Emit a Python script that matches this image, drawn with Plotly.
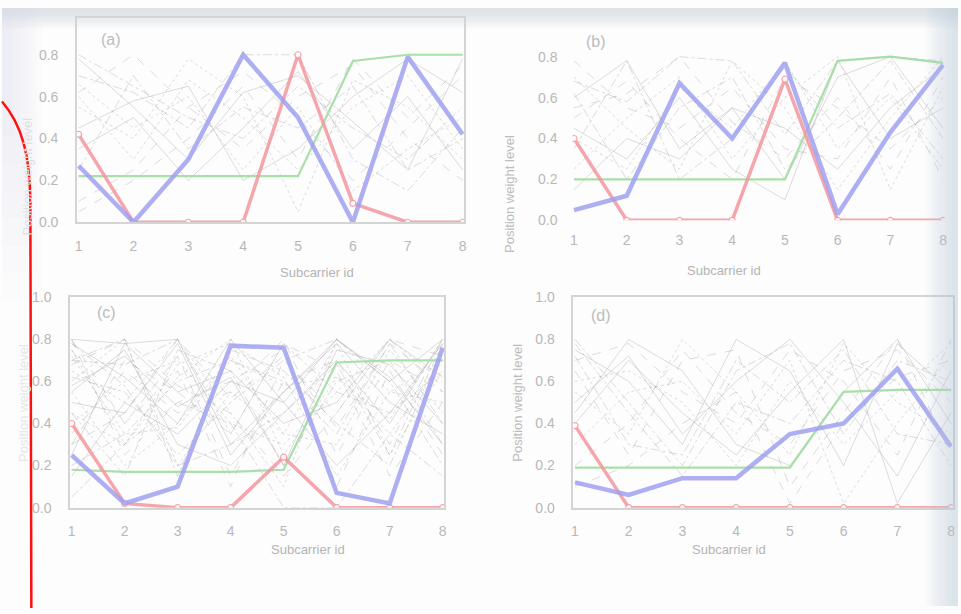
import plotly.graph_objects as go

W, H = 961, 614

subcarrier = [1, 2, 3, 4, 5, 6, 7, 8]

# ---------------- panel (a) ----------------
a_red = [0.42, 0.0, 0.0, 0.0, 0.80, 0.09, 0.0, 0.0]
a_blue = [0.27, 0.0, 0.30, 0.80, 0.50, 0.0, 0.79, 0.42]
a_green = [0.22, 0.22, 0.22, 0.22, 0.22, 0.77, 0.80, 0.80]
a_gray = [
    [0.78, 0.55, 0.30, 0.62, 0.70, 0.48, 0.25, 0.78],
    [0.62, 0.80, 0.55, 0.35, 0.60, 0.75, 0.40, 0.20],
    [0.55, 0.40, 0.78, 0.60, 0.05, 0.68, 0.55, 0.30],
    [0.70, 0.62, 0.45, 0.80, 0.80, 0.30, 0.15, 0.45],
    [0.45, 0.58, 0.65, 0.20, 0.35, 0.60, 0.78, 0.62],
    [0.10, 0.25, 0.55, 0.72, 0.50, 0.20, 0.45, 0.70],
    [0.60, 0.30, 0.68, 0.50, 0.25, 0.55, 0.70, 0.35],
    [0.80, 0.65, 0.50, 0.40, 0.65, 0.45, 0.30, 0.55],
    [0.35, 0.50, 0.20, 0.45, 0.72, 0.35, 0.60, 0.25],
    [0.05, 0.20, 0.40, 0.65, 0.30, 0.78, 0.50, 0.75],
    [0.66, 0.45, 0.60, 0.25, 0.55, 0.15, 0.35, 0.50],
    [0.25, 0.70, 0.35, 0.55, 0.45, 0.65, 0.25, 0.40],
]

# ---------------- panel (b) ----------------
b_red = [0.40, 0.0, 0.0, 0.0, 0.69, 0.0, 0.0, 0.0]
b_blue = [0.05, 0.12, 0.67, 0.40, 0.77, 0.03, 0.43, 0.76]
b_green = [0.20, 0.20, 0.20, 0.20, 0.20, 0.78, 0.80, 0.77]
b_gray = [
    [0.60, 0.78, 0.35, 0.55, 0.20, 0.70, 0.80, 0.45],
    [0.55, 0.62, 0.80, 0.48, 0.30, 0.60, 0.25, 0.70],
    [0.70, 0.45, 0.25, 0.78, 0.55, 0.15, 0.50, 0.80],
    [0.35, 0.78, 0.20, 0.40, 0.75, 0.45, 0.62, 0.30],
    [0.45, 0.30, 0.60, 0.25, 0.10, 0.78, 0.40, 0.55],
    [0.78, 0.55, 0.45, 0.65, 0.35, 0.30, 0.70, 0.20],
    [0.25, 0.50, 0.70, 0.30, 0.60, 0.80, 0.15, 0.65],
    [0.62, 0.20, 0.55, 0.70, 0.25, 0.50, 0.78, 0.40],
    [0.15, 0.40, 0.30, 0.55, 0.45, 0.25, 0.55, 0.75],
    [0.50, 0.68, 0.40, 0.20, 0.70, 0.55, 0.35, 0.60],
    [0.40, 0.25, 0.65, 0.45, 0.78, 0.35, 0.60, 0.25],
    [0.68, 0.58, 0.80, 0.78, 0.42, 0.78, 0.80, 0.78],
]

# ---------------- panel (c) ----------------
c_red = [0.40, 0.02, 0.0, 0.0, 0.24, 0.0, 0.0, 0.0]
c_blue = [0.25, 0.02, 0.10, 0.77, 0.76, 0.07, 0.02, 0.76]
c_green = [0.18, 0.17, 0.17, 0.17, 0.18, 0.69, 0.70, 0.70]
c_gray = [
    [0.80, 0.78, 0.80, 0.30, 0.55, 0.80, 0.60, 0.80],
    [0.75, 0.40, 0.65, 0.10, 0.70, 0.45, 0.80, 0.55],
    [0.60, 0.80, 0.20, 0.55, 0.35, 0.78, 0.25, 0.65],
    [0.45, 0.15, 0.75, 0.65, 0.20, 0.60, 0.70, 0.30],
    [0.78, 0.62, 0.40, 0.80, 0.50, 0.20, 0.45, 0.78],
    [0.30, 0.70, 0.55, 0.35, 0.78, 0.65, 0.15, 0.50],
    [0.65, 0.50, 0.80, 0.45, 0.10, 0.80, 0.55, 0.70],
    [0.20, 0.35, 0.60, 0.70, 0.60, 0.35, 0.78, 0.40],
    [0.55, 0.75, 0.30, 0.20, 0.45, 0.70, 0.40, 0.80],
    [0.80, 0.25, 0.50, 0.60, 0.75, 0.10, 0.65, 0.25],
    [0.40, 0.60, 0.70, 0.40, 0.30, 0.55, 0.80, 0.60],
    [0.70, 0.80, 0.15, 0.75, 0.65, 0.40, 0.20, 0.75],
    [0.50, 0.45, 0.78, 0.25, 0.55, 0.78, 0.50, 0.35],
    [0.35, 0.65, 0.45, 0.55, 0.80, 0.25, 0.70, 0.55],
    [0.75, 0.30, 0.62, 0.80, 0.25, 0.62, 0.35, 0.70],
    [0.62, 0.55, 0.25, 0.50, 0.70, 0.80, 0.60, 0.20],
    [0.25, 0.78, 0.55, 0.65, 0.40, 0.50, 0.80, 0.62],
    [0.80, 0.40, 0.72, 0.15, 0.60, 0.70, 0.30, 0.80],
    [0.55, 0.20, 0.40, 0.72, 0.35, 0.30, 0.75, 0.45],
    [0.70, 0.68, 0.80, 0.35, 0.78, 0.55, 0.45, 0.65],
    [0.15, 0.50, 0.35, 0.60, 0.50, 0.80, 0.62, 0.30],
    [0.68, 0.80, 0.58, 0.45, 0.15, 0.45, 0.80, 0.72],
    [0.45, 0.30, 0.68, 0.78, 0.62, 0.15, 0.55, 0.50],
    [0.78, 0.58, 0.20, 0.30, 0.45, 0.68, 0.25, 0.78],
    [0.58, 0.72, 0.48, 0.62, 0.20, 0.75, 0.68, 0.40],
    [0.30, 0.45, 0.80, 0.52, 0.72, 0.38, 0.78, 0.58],
    [0.72, 0.35, 0.38, 0.70, 0.58, 0.62, 0.42, 0.80],
    [0.05, 0.30, 0.50, 0.40, 0.00, 0.00, 0.35, 0.15],
]

# ---------------- panel (d) ----------------
d_red = [0.39, 0.0, 0.0, 0.0, 0.0, 0.0, 0.0, 0.0]
d_blue = [0.12, 0.06, 0.14, 0.14, 0.35, 0.40, 0.66, 0.29]
d_green = [0.19, 0.19, 0.19, 0.19, 0.19, 0.55, 0.56, 0.56]
d_gray = [
    [0.75, 0.60, 0.30, 0.80, 0.65, 0.20, 0.78, 0.55],
    [0.70, 0.78, 0.55, 0.40, 0.75, 0.60, 0.25, 0.80],
    [0.55, 0.35, 0.80, 0.55, 0.25, 0.78, 0.50, 0.35],
    [0.80, 0.50, 0.20, 0.65, 0.78, 0.35, 0.70, 0.60],
    [0.40, 0.70, 0.45, 0.25, 0.55, 0.80, 0.02, 0.45],
    [0.65, 0.25, 0.70, 0.75, 0.10, 0.45, 0.80, 0.25],
    [0.30, 0.55, 0.60, 0.35, 0.70, 0.02, 0.40, 0.72],
    [0.78, 0.45, 0.15, 0.50, 0.40, 0.70, 0.60, 0.20],
    [0.50, 0.72, 0.35, 0.60, 0.80, 0.50, 0.15, 0.65],
    [0.20, 0.40, 0.75, 0.45, 0.30, 0.65, 0.75, 0.50],
    [0.60, 0.65, 0.50, 0.20, 0.60, 0.30, 0.55, 0.78],
    [0.72, 0.30, 0.25, 0.70, 0.50, 0.75, 0.35, 0.30],
    [0.45, 0.80, 0.65, 0.30, 0.20, 0.55, 0.80, 0.40],
    [0.10, 0.20, 0.40, 0.55, 0.02, 0.40, 0.62, 0.70],
]

panel_labels = ["(a)", "(b)", "(c)", "(d)"]
x_title = "Subcarrier id"
y_title = "Position weight level"
ticks_08 = [0.0, 0.2, 0.4, 0.6, 0.8]
ticks_10 = [0.0, 0.2, 0.4, 0.6, 0.8, 1.0]

# ---------------- styling ----------------
RED = "rgba(243,150,158,0.85)"
BLUE = "rgba(160,160,240,0.85)"
GREEN = "rgba(160,220,160,0.9)"
GRAY = "rgba(150,150,150,0.32)"
TXT = "#b8b8b8"
FONT = "Liberation Sans, Arial, sans-serif"
dashes = ["solid", "dash", "dot", "dashdot"]


def px_x(p):
    return p / W


def px_y(p):
    return 1 - p / H


# pixel geometry of each panel: left, right, bottom(y=0), top, y-range top
panels = [
    dict(l=77, r=463, b=220, t=10, ytop=(220 - 10) / 215, ticks=ticks_08,
         gray=a_gray, red=a_red, blue=a_blue, green=a_green, frame=True),
    dict(l=575, r=946, b=218, t=10, ytop=(218 - 10) / 210, ticks=ticks_08,
         gray=b_gray, red=b_red, blue=b_blue, green=b_green, frame=False),
    dict(l=70, r=443, b=513, t=297, ytop=1.0, ticks=ticks_10,
         gray=c_gray, red=c_red, blue=c_blue, green=c_green, frame=True),
    dict(l=576, r=954, b=513, t=297, ytop=1.0, ticks=ticks_10,
         gray=d_gray, red=d_red, blue=d_blue, green=d_green, frame=True),
]

fig = go.Figure()
layout = dict(
    width=W, height=H, margin=dict(l=0, r=0, t=0, b=0),
    paper_bgcolor="#fdfdfd", plot_bgcolor="rgba(0,0,0,0)",
    showlegend=False, font=dict(family=FONT, color=TXT, size=14),
)

for i, p in enumerate(panels):
    n = "" if i == 0 else str(i + 1)
    xa, ya = "x" + n, "y" + n
    pad = 0.03
    for j, g in enumerate(p["gray"]):
        fig.add_trace(go.Scatter(
            x=subcarrier, y=g, mode="lines", xaxis=xa, yaxis=ya,
            line=dict(color=GRAY, width=1, dash=dashes[j % 4]),
            hoverinfo="skip"))
    fig.add_trace(go.Scatter(
        x=subcarrier, y=p["green"], mode="lines", xaxis=xa, yaxis=ya,
        line=dict(color=GREEN, width=2.2), name="green"))
    fig.add_trace(go.Scatter(
        x=subcarrier, y=p["red"], mode="lines+markers", xaxis=xa, yaxis=ya,
        line=dict(color=RED, width=3.5),
        marker=dict(size=6, color="rgba(255,255,255,0.9)",
                    line=dict(color=RED, width=1.2)), name="red"))
    fig.add_trace(go.Scatter(
        x=subcarrier, y=p["blue"], mode="lines", xaxis=xa, yaxis=ya,
        line=dict(color=BLUE, width=4.5), name="blue"))

    xspan = (p["r"] - p["l"]) / 7.0
    layout["xaxis" + n] = dict(
        domain=[px_x(p["l"] - pad * xspan), px_x(p["r"] + pad * xspan)],
        range=[1 - pad, 8 + pad], anchor=ya,
        tickvals=subcarrier, ticktext=[str(v) for v in subcarrier],
        showgrid=False, zeroline=False, ticks="",
        ticklabelstandoff=10, tickfont=dict(size=14, color=TXT),
        showline=p["frame"], linecolor="#d4d4d4", linewidth=1.5,
        mirror=p["frame"],
    )
    layout["yaxis" + n] = dict(
        domain=[px_y(p["b"]), px_y(p["t"])],
        range=[0, p["ytop"]], anchor=xa,
        tickvals=p["ticks"], ticktext=["%.1f" % v for v in p["ticks"]],
        showgrid=False, zeroline=False, ticks="",
        ticklabelstandoff=14, tickfont=dict(size=14, color=TXT),
        showline=p["frame"], linecolor="#d4d4d4", linewidth=1.5,
        mirror=p["frame"],
    )

annotations = []
label_pos = [(98, 22), (597, 24), (93, 313), (602, 316)]
for lab, (lx, ly) in zip(panel_labels, label_pos):
    annotations.append(dict(x=px_x(lx), y=px_y(ly), xref="paper", yref="paper",
                            text=lab, showarrow=False,
                            font=dict(size=16, color="#bcbcbc")))
xt_pos = [(277, 272), (765, 270), (268, 566), (770, 566)]
for tx, ty in xt_pos:
    annotations.append(dict(x=px_x(tx), y=px_y(ty), xref="paper", yref="paper",
                            text=x_title, showarrow=False,
                            font=dict(size=13, color="#b4b4b4")))
yt_pos = [(16, 110, "#e0e0e0"), (510, 128, "#bcbcbc"),
          (12, 405, "#e6e6e6"), (518, 405, "#bcbcbc")]
for tx, ty, col in yt_pos:
    annotations.append(dict(x=px_x(tx), y=px_y(ty), xref="paper", yref="paper",
                            text=y_title, showarrow=False, textangle=-90,
                            font=dict(size=13, color=col)))
layout["annotations"] = annotations

# page tint: soft band at top, faint tint at upper left, shadowed right edge
shapes = []
for k in range(8):
    shapes.append(dict(type="rect", xref="paper", yref="paper", layer="below",
                       x0=0, x1=1, y0=px_y(2.5 * k + 3), y1=1,
                       fillcolor="rgba(205,218,224,0.13)", line=dict(width=0)))
for k in range(8):
    shapes.append(dict(type="rect", xref="paper", yref="paper", layer="below",
                       x0=0, x1=px_x(40 - 4.5 * k), y0=px_y(300 - 28 * k), y1=1,
                       fillcolor="rgba(215,226,231,0.06)", line=dict(width=0)))
for k in range(10):
    shapes.append(dict(type="rect", xref="paper", yref="paper", layer="above",
                       x0=px_x(928 + 3.0 * k), x1=1, y0=0, y1=1,
                       fillcolor="rgba(195,210,217,0.06)", line=dict(width=0)))
# hand-drawn red bracket on the left
shapes.append(dict(
    type="path", xref="paper", yref="paper", layer="above",
    path=(f"M {px_x(0)} {px_y(96)} C {px_x(20)} {px_y(120)}, {px_x(28)} {px_y(150)}, "
          f"{px_x(28.5)} {px_y(200)} L {px_x(29.5)} {px_y(616)}"),
    line=dict(color="#ff1010", width=2.5)))
layout["shapes"] = shapes

fig.update_layout(**layout)
fig.write_html("out.html")
